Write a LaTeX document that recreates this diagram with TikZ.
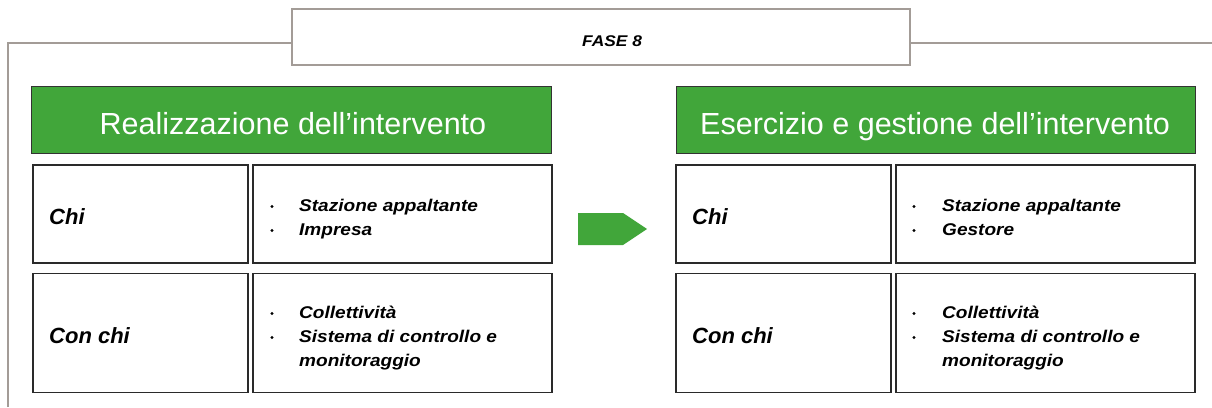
\documentclass[tikz,border=0pt]{standalone}
\usepackage{fontspec}
\setmainfont{Liberation Sans}
\newfontfamily\widefont[FakeStretch=1.12]{Liberation Sans}
\definecolor{frameg}{HTML}{A39C97}
\definecolor{hgreen}{HTML}{41A63A}
\definecolor{celld}{HTML}{2A2A2A}
\begin{document}
\begin{tikzpicture}[x=1pt,y=-1pt,
  cellbox/.style={draw=celld,line width=1.1pt,fill=white,inner sep=0pt,outer sep=0pt},
  header/.style={draw=black!80,line width=1pt,fill=hgreen,inner sep=0pt,outer sep=0pt},
  htext/.style={text=white,font=\fontsize{30.5}{35}\selectfont,anchor=base,inner sep=0pt},
  celltext/.style={font=\fontsize{22}{26}\selectfont\bfseries\itshape,anchor=base west,inner sep=0pt},
  bul/.style={circle,fill=black,inner sep=0pt,minimum size=3.4pt},
  btext/.style={font=\widefont\fontsize{17}{20}\selectfont\bfseries\itshape,anchor=base west,inner sep=0pt},
]
\useasboundingbox (0,0) rectangle (1212,407);
% frame
\coordinate (fl) at (8,407);
\coordinate (ftl) at (8,43);
\coordinate (ftr) at (1212,43);
\node[draw=frameg,line width=1.2pt,fill=white,minimum width=618pt,minimum height=56pt,inner sep=0pt,outer sep=0pt] (fase) at (601,37) {};
\node[font=\widefont\fontsize{15.5}{18}\selectfont\bfseries\itshape,anchor=base,inner sep=0pt] (fasetxt) at (612,46) {FASE 8};
\draw[frameg,line width=2pt] (fl) -- (ftl) -- (fase.west |- ftl);
\draw[frameg,line width=2pt] (fase.east |- ftr) -- (ftr);

% left
\node[header,minimum width=520pt,minimum height=67pt] (h1) at (291,119.5) {};
\node[htext] (h1t) at (293,134) {Realizzazione dell’intervento};
\node[cellbox,minimum width=215pt,minimum height=98pt] (c11) at (140.5,214) {};
\node[cellbox,minimum width=299pt,minimum height=98pt] (c12) at (402.5,214) {};
\node[cellbox,minimum width=215pt,minimum height=119pt] (c21) at (140.5,333) {};
\node[cellbox,minimum width=299pt,minimum height=119pt] (c22) at (402.5,333) {};
\node[celltext] (l11) at (49,224) {Chi};
\node[celltext] (l21) at (49,343) {Con chi};
\node[bul] (b1) at (272,206.5) {};
\node[bul] (b2) at (272,230.5) {};
\node[btext] (t1) at (299,211) {Stazione appaltante};
\node[btext] (t2) at (299,235) {Impresa};
\node[bul] (b3) at (272,313.5) {};
\node[bul] (b4) at (272,337.5) {};
\node[btext] (t3) at (299,318) {Collettività};
\node[btext] (t4) at (299,342) {Sistema di controllo e};
\node[btext] (t5) at (299,366) {monitoraggio};

% arrow
\coordinate (a0) at (578,213);
\coordinate (a1) at (623,213);
\coordinate (a2) at (647,229);
\coordinate (a3) at (623,245);
\coordinate (a4) at (578,245);
\fill[hgreen] (a0) -- (a1) -- (a2) -- (a3) -- (a4) -- cycle;

% right
\node[header,minimum width=519pt,minimum height=67pt] (h2) at (935.5,119.5) {};
\node[htext] (h2t) at (935,134) {Esercizio e gestione dell’intervento};
\node[cellbox,minimum width=215pt,minimum height=98pt] (r11) at (783.5,214) {};
\node[cellbox,minimum width=299pt,minimum height=98pt] (r12) at (1045.5,214) {};
\node[cellbox,minimum width=215pt,minimum height=119pt] (r21) at (783.5,333) {};
\node[cellbox,minimum width=299pt,minimum height=119pt] (r22) at (1045.5,333) {};
\node[celltext] (rl11) at (692,224) {Chi};
\node[celltext] (rl21) at (692,343) {Con chi};
\node[bul] (rb1) at (914,206.5) {};
\node[bul] (rb2) at (914,230.5) {};
\node[btext] (rt1) at (942,211) {Stazione appaltante};
\node[btext] (rt2) at (942,235) {Gestore};
\node[bul] (rb3) at (914,313.5) {};
\node[bul] (rb4) at (914,337.5) {};
\node[btext] (rt3) at (942,318) {Collettività};
\node[btext] (rt4) at (942,342) {Sistema di controllo e};
\node[btext] (rt5) at (942,366) {monitoraggio};
\end{tikzpicture}
\end{document}
